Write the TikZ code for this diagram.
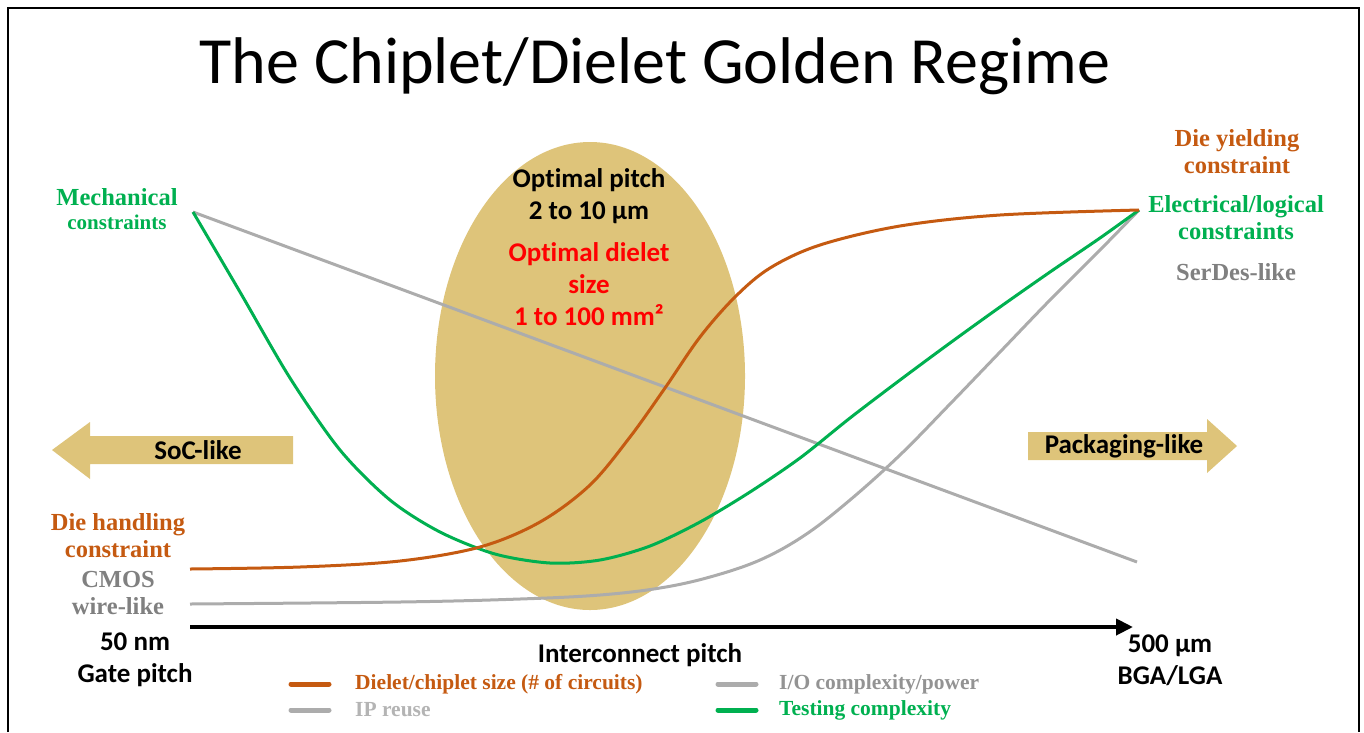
\documentclass[tikz,border=0pt]{standalone}
\usepackage{fontspec}
\setmainfont{Carlito}[Ligatures=NoCommon]
\newfontfamily\tnr{Liberation Serif}
\usetikzlibrary{arrows.meta}

\definecolor{dieorange}{RGB}{197,90,17}
\definecolor{testgreen}{RGB}{0,176,80}
\definecolor{curvegrey}{RGB}{172,172,172}
\definecolor{labgrey}{RGB}{128,128,128}
\definecolor{ipgrey}{RGB}{180,180,180}
\definecolor{regimetan}{RGB}{222,196,122}

\begin{document}
\begin{tikzpicture}[
x=1pt, y=-1pt,
sanslab/.style = {font=\fontsize{27}{32}\selectfont\bfseries, align=center, inner sep=0pt},
seriflab/.style = {font=\tnr\fontsize{24.5}{27}\selectfont\bfseries, align=center, inner sep=0pt},
legtext/.style = {font=\tnr\fontsize{21.5}{24}\selectfont\bfseries, anchor=west, inner sep=0pt},
legline/.style = {line width=5pt, line cap=round},
curve/.style = {line width=3pt, line join=round},
bigarrow/.style = {fill=regimetan, draw=none}
                        ]
\useasboundingbox (0,0) rectangle (1364,732);

% frame
\draw[line width=2.5pt] (8,732) -- (8,8) -- (1359,8) -- (1359,732);

% title
\node[font=\fontsize{66}{72}\selectfont, inner sep=0pt] (title) at (655,66) {The Chiplet/Dielet Golden Regime};

% golden regime
\fill[regimetan] (590,376) ellipse [x radius=155, y radius=234];

% end points of the curves
\coordinate (mech) at (193,212);
\coordinate (elec) at (1139,210);
\coordinate (dh)   at (190,569);
\coordinate (cmos) at (190,604);
\coordinate (ipend) at (1137,562);

% IP reuse
\draw[curve, curvegrey] (mech) -- (ipend);

% I/O complexity
\draw[curve, curvegrey] plot[smooth, tension=0.6] coordinates {(190,604) (400,602) (520,599) (600,595) (660,588) (710,577) (760,560) (805,535) (850,500) (900,455) (950,404) (1000,352) (1050,300) (1100,250) (1139,210)};

% testing complexity
\draw[curve, testgreen] plot[smooth, tension=0.5] coordinates {(193,212) (240,292) (290,378) (340,450) (390,500) (440,532) (495,554) (550,563) (600,560) (650,546) (700,522) (750,492) (800,458) (850,418) (900,380) (950,343) (1000,307) (1050,272) (1100,238) (1139,210)};

% dielet size
\draw[curve, dieorange] plot[smooth, tension=0.55] coordinates {(190,569) (300,567) (400,561) (480,547) (540,522) (590,485) (630,437) (665,388) (700,337) (735,297) (770,268) (820,245) (900,226) (1000,215) (1139,210)};

% regime texts
\node[sanslab] (pitch) at (589,196) {Optimal pitch\\2 to 10 µm};
\node[sanslab, text=red] (dsize) at (589,284) {Optimal dielet\\size\\1 to 100 mm²};

% left labels
\node[seriflab, text=testgreen] (mechl) at (117,197) {Mechanical};
\node[seriflab, text=testgreen, font=\tnr\fontsize{21}{24}\selectfont\bfseries] (mechc) at (117,222) {constraints};
\node[seriflab, text=dieorange] (handl) at (118,536) {Die handling\\constraint};
\node[seriflab, text=labgrey] (cmosl) at (118,593) {CMOS\\wire-like};

% right labels
\node[seriflab, text=dieorange] (yieldl) at (1237,152) {Die yielding\\constraint};
\node[seriflab, text=testgreen] (elecl) at (1236,218) {Electrical/logical\\constraints};
\node[seriflab, text=labgrey] (serdes) at (1236,272) {SerDes-like};

% side arrows
\fill[bigarrow] (293,436) -- (90,436) -- (90,422) -- (52,450) -- (90,479) -- (90,464) -- (293,464) -- cycle;
\node[sanslab] (soc) at (198,450) {SoC-like};
\fill[bigarrow] (1028,432) -- (1207,432) -- (1207,419) -- (1237,446) -- (1207,473) -- (1207,460) -- (1028,460) -- cycle;
\node[sanslab] (pack) at (1124,446) {Packaging-like};

% pitch axis
\coordinate (axl) at (190,627);
\coordinate (axr) at (1133,627);
\draw[line width=4pt, -{Triangle[length=17pt, width=16pt]}] (axl) -- (axr);
\node[sanslab] (left) at (135,660) {50 nm\\Gate pitch};
\node[sanslab] (right) at (1170,660) {500 µm\\BGA/LGA};
\node[sanslab] (axis) at (640,655) {Interconnect pitch};

% legend
\draw[legline, dieorange] (291,684) -- (329,684);
\node[legtext, text=dieorange] (leg1) at (355,684) {Dielet/chiplet size (\# of circuits)};
\draw[legline, curvegrey] (291,710) -- (329,710);
\node[legtext, text=ipgrey] (leg2) at (355,710) {IP reuse};
\draw[legline, curvegrey] (718,684) -- (756,684);
\node[legtext, text=labgrey!85] (leg3) at (779,684) {I/O complexity/power};
\draw[legline, testgreen] (718,710) -- (756,710);
\node[legtext, text=testgreen] (leg4) at (779,710) {Testing complexity};

\end{tikzpicture}
\end{document}
